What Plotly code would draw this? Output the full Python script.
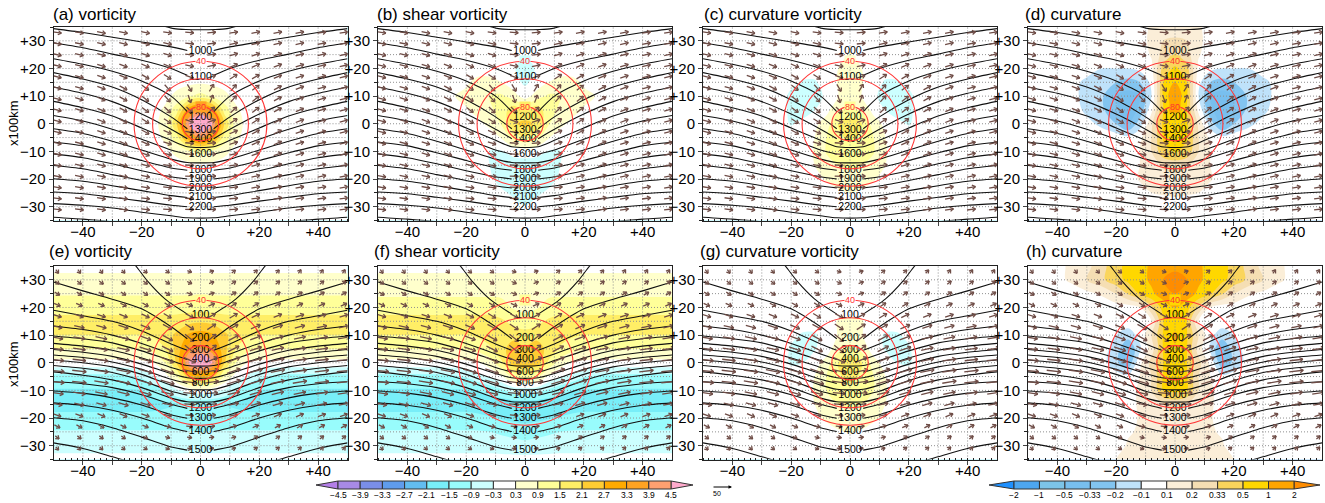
import numpy as np
import plotly.graph_objects as go

W, H = 1325, 503
FONT = "Liberation Sans"
TITLES = ["(a) vorticity", "(b) shear vorticity", "(c) curvature vorticity", "(d) curvature",
          "(e) vorticity", "(f) shear vorticity", "(g) curvature vorticity", "(h) curvature"]
TITLE_X = [51, 375, 702, 1023, 47, 372, 698, 1024]
PANEL_LEFT = [53.5, 378, 703, 1028]
PANEL_W = 294
ROW_TOP = [27, 266]
ROW_H = 193.5

XH = [0, 4, 8, 12, 16, 20, 25, 30, 35, 40, 50]
YG = [35, 30, 25, 20, 15, 10, 5, 0, -5, -10, -15, -20, -25, -30, -35]

Z_A = [[0], [0], [0], [0.05, 0], [0.2, 0.15, 0.1, 0], [1.1, 0.8, 0.45, 0.15, 0.05, 0], [3.9, 3.1, 1.3, 0.4, 0.1, 0],
       [5.6, 4.5, 2.1, 0.6, 0.1, 0], [3.9, 3.1, 1.3, 0.4, 0.1, 0], [1.1, 0.8, 0.45, 0.15, 0.05, 0],
       [0.2, 0.15, 0.1, 0], [0.05, 0], [0], [0], [0]]
Z_B = [[0], [0], [-0.25, -0.05, 0], [-0.5, -0.25, 0], [-0.4, -0.1, 0.3, 0.5, 0.5, 0.2, 0],
       [0, 0.6, 1.0, 0.9, 0.6, 0.45, 0.25, 0.05, 0], [1.5, 1.9, 1.1, 0.8, 0.5, 0.25, 0], [2.3, 2.0, 0.95, 0.45, 0.15, 0],
       [1.4, 1.1, 0.35, 0, -0.1, 0], [0, -0.1, -0.35, -0.32, -0.05, 0], [-0.6, -0.6, -0.55, -0.3, 0],
       [-0.7, -0.65, -0.5, -0.2, 0], [-0.5, -0.4, -0.2, 0], [-0.28, -0.1, 0], [0]]
Z_C = [[0], [0.1, 0], [0.35, 0.1, 0], [0.45, 0.3, 0, -0.1, -0.05, 0],
       [0.6, 0.35, -0.1, -0.35, -0.35, -0.2, 0], [0.6, 0.3, -0.2, -0.5, -0.55, -0.4, -0.05, 0],
       [1.1, 0.8, 0.1, -0.3, -0.55, -0.4, -0.05, 0], [1.8, 1.5, 0.6, 0.15, -0.15, -0.35, 0],
       [1.6, 1.4, 0.9, 0.3, 0.05, 0], [1.3, 1.2, 0.95, 0.35, 0], [1.0, 0.9, 0.7, 0.3, 0],
       [0.65, 0.55, 0.35, 0.1, 0], [0.3, 0.2, 0.05, 0], [0], [0]]
Z_D = [[0.15, 0.14, 0.12, 0], [0.22, 0.2, 0.13, 0], [0.35, 0.25, 0.11, 0, -0.02, 0],
       [0.6, 0.4, 0.05, -0.05, -0.1, -0.1, -0.1, -0.03, 0], [1.1, 0.5, -0.05, -0.2, -0.25, -0.2, -0.17, -0.12, -0.05, 0],
       [2.2, 0.6, -0.1, -0.35, -0.4, -0.35, -0.18, -0.13, -0.05, 0], [1.0, 0.5, 0.05, -0.3, -0.45, -0.3, -0.18, -0.12, -0.02, 0],
       [0.7, 0.6, 0.18, -0.15, -0.35, -0.2, -0.12, -0.05, 0], [0.7, 0.55, 0.2, 0.05, -0.05, 0],
       [0.55, 0.45, 0.2, 0.1, 0], [0.25, 0.22, 0.15, 0.1, 0], [0.17, 0.16, 0.13, 0.11, 0.02, 0],
       [0.12, 0.11, 0.1, 0.02, 0], [0], [0]]
Z_E = [[0.05], [0.55], [0.85], [1.3, 1.25, 1.2], [2.0, 1.9, 1.8, 1.75], [3.0, 2.8, 2.2, 1.9, 1.6, 1.5],
       [4.0, 3.6, 2.3, 1.5, 1.1, 0.95, 0.9], [5.4, 4.6, 2.2, 0.9, 0.3, 0.15, 0.1],
       [2.8, 2.4, 0.9, 0.05, -0.4, -0.8, -1.0, -1.1], [0.05, -0.1, -0.4, -0.9, -1.3, -1.5, -1.55],
       [-1.35, -1.4, -1.5, -1.6, -1.7, -1.75], [-1.4, -1.35, -1.3], [-0.9, -0.85], [-0.55], [-0.1]]
Z_F = [[0.05], [0.55], [0.6, 0.7, 0.8], [0.7, 0.85, 1.1, 1.2], [1.2, 1.3, 1.6, 1.75], [1.7, 1.9, 2.0, 1.8, 1.6, 1.5],
       [2.2, 2.4, 1.9, 1.4, 1.1, 0.95, 0.9], [2.6, 2.4, 1.4, 0.6, 0.25, 0.15, 0.1],
       [1.3, 1.1, 0.2, -0.2, -0.5, -0.85, -1.0, -1.1], [-0.6, -0.7, -1.0, -1.3, -1.5, -1.55],
       [-1.8, -1.85, -1.9, -1.85, -1.8, -1.75], [-1.7, -1.65, -1.55, -1.45, -1.35, -1.3],
       [-1.2, -1.1, -1.0, -0.9, -0.85], [-0.7, -0.65, -0.6, -0.55], [-0.1]]
Z_G = [[0], [0], [0], [0.1, 0], [0.4, 0.35, 0, -0.1, -0.1, 0], [0.55, 0.35, -0.1, -0.35, -0.35, -0.2, 0],
       [1.1, 0.7, 0, -0.35, -0.45, -0.35, 0], [1.9, 1.5, 0.55, 0.05, -0.3, -0.35, -0.05, 0],
       [1.7, 1.4, 0.9, 0.3, -0.05, -0.1, 0], [1.3, 1.2, 0.9, 0.35, 0], [1.0, 0.9, 0.7, 0.3, 0],
       [0.6, 0.55, 0.4, 0.15, 0], [0.35, 0.25, 0.08, 0], [0], [0]]
Z_H = [[1.9, 1.7, 1.2, 0.8, 0.65, 0.45, 0.28, 0.17, 0.12, 0.05, 0], [2.3, 2.0, 1.2, 0.8, 0.6, 0.45, 0.3, 0.2, 0.12, 0.05, 0],
       [2.0, 1.5, 0.9, 0.55, 0.35, 0.2, 0.11, 0.05, 0], [1.0, 0.7, 0.3, 0.1, 0], [0.55, 0.5, 0.1, 0],
       [1.3, 0.55, 0.2, -0.05, -0.15, -0.1, 0], [0.9, 0.55, 0.15, -0.12, -0.35, -0.15, 0],
       [0.7, 0.5, 0.25, 0.05, -0.3, -0.18, 0], [0.75, 0.55, 0.2, 0.1, -0.05, 0], [0.6, 0.5, 0.2, 0.12, 0],
       [0.25, 0.2, 0.13, 0.12, 0], [0.17, 0.16, 0.13, 0.11, 0.02, 0], [0.13, 0.13, 0.12, 0.11, 0.08, 0],
       [0.13, 0.12, 0.12, 0.11, 0.11, 0.02, 0], [0.13, 0.12, 0.12, 0.12, 0.11, 0.1, 0]]
FIELDS = [Z_A, Z_B, Z_C, Z_D, Z_E, Z_F, Z_G, Z_H]

VOR_LEVELS = [-4.5, -3.9, -3.3, -2.7, -2.1, -1.5, -0.9, -0.3, 0.3, 0.9, 1.5, 2.1, 2.7, 3.3, 3.9, 4.5]
VOR_COLORS = ["#b47fe8", "#a88ae6", "#7a8ee8", "#5f9cec", "#62bdf0", "#78eef8", "#98fcfc", "#ccffff", "#ffffff",
              "#ffffcc", "#ffff99", "#ffee66", "#ffcc33", "#ffaa00", "#ffa322", "#ffa070", "#ffaacc"]
VOR_LABELS = ["−4.5", "−3.9", "−3.3", "−2.7", "−2.1", "−1.5", "−0.9", "−0.3", "0.3", "0.9", "1.5", "2.1", "2.7", "3.3", "3.9", "4.5"]
CUR_LEVELS = [-2, -1, -0.5, -0.33, -0.2, -0.1, 0.1, 0.2, 0.33, 0.5, 1, 2]
CUR_COLORS = ["#1e90ff", "#4da6f0", "#7cc4e8", "#78bfee", "#82c4f0", "#bfe2fa", "#ffffff", "#fbeed8", "#f5deb3",
              "#fad55c", "#ffd700", "#ffa500", "#ff8c00"]
CUR_LABELS = ["−2", "−1", "−0.5", "−0.33", "−0.2", "−0.1", "0.1", "0.2", "0.33", "0.5", "1", "2"]

ISO_X = [50, 40, 30, 20, 10, 4.5]
ISO_LEVELS_1 = [1000, 1100, 1200, 1300, 1400, 1500, 1600, 1700, 1800, 1900, 2000, 2100, 2200, 2300, 2400]
ISO_Y_1 = [[34.4, 33, 31.3, 29.6, 27.8, 26.5], [29.3, 27.5, 25.2, 23, 20, 17.5], [23.5, 21.5, 19, 15.5, 10, 4.4],
           [18.5, 16.2, 13.3, 8.7, 2.5, -1.8], [13.3, 11, 8, 3.5, -2, -5.4], [8.1, 5.8, 2.8, -1.5, -6, -8.3],
           [3, 1, -2, -5.6, -9.5, -11], [-1.8, -3.5, -6.3, -9.5, -12.8, -14], [-6.6, -8, -10.5, -13.3, -16, -16.8],
           [-10.9, -12.3, -14.5, -17, -19.2, -20], [-15.1, -16.3, -18.4, -20.5, -22.5, -23.2],
           [-19.9, -20.8, -22.4, -24.2, -26, -26.7], [-24.7, -25.3, -26.6, -28, -29.5, -30],
           [-28.9, -29.5, -30.5, -32, -33.3, -34], [-33.8, -34.5, -35.5, -37, -38, -39]]
ISO_LABELS_1 = [1000, 1100, 1200, 1300, 1400, 1600, 1800, 1900, 2000, 2100, 2200]
ISO_LABEL_Y_1 = [26.3, 16.9, 2.4, -2.4, -5.8, -11.2, -16.9, -20.2, -23.3, -26.8, -30.2]
ISO_EXTRA_X_1 = [12, 9, 5, 0]
ISO_EXTRA_Y_1 = [35.2, 34.4, 34.1, 34]

ISO_LEVELS_2 = [200, 300, 400, 500, 600, 700, 800, 900, 1000, 1100, 1200, 1300, 1400, 1500, 1600]
ISO_Y_2 = [[29.2, 26, 23, 19.5, 13, 8.7], [19, 17, 15, 11.5, 6.8, 4.5], [13.3, 12, 10, 7, 3.2, 1.2],
           [9.7, 8.7, 7.2, 4.3, 0.8, -1], [7, 6, 4.5, 1.7, -1.7, -3.4], [4.8, 3.8, 2.3, -0.5, -3.9, -5.4],
           [2.8, 1.9, 0.3, -2.4, -6, -7.5], [1, 0, -1.5, -4.2, -8.1, -9.6], [-1, -2, -3.5, -6.4, -10.3, -11.7],
           [-3.3, -4.5, -6.2, -9, -12.8, -14.1], [-6.9, -7.6, -9, -11.6, -15, -16.5], [-10.2, -11, -12.7, -15.3, -18.8, -20.1],
           [-14.5, -15.4, -17.2, -20, -23.5, -24.9], [-19.9, -21, -23.5, -26.9, -30.5, -31.6],
           [-29, -31, -34, -37, -39, -40]]
ISO_LABELS_2 = [100, 200, 300, 400, 600, 800, 1000, 1200, 1300, 1400, 1500]
ISO_LABEL_Y_2 = [17.2, 8.7, 4.5, 1.2, -3.4, -7.5, -11.7, -16.5, -20.1, -24.9, -31.6]
ISO_EXTRA_X_2 = [24, 22, 18, 12, 4.5]
ISO_EXTRA_Y_2 = [37, 35, 29.5, 23, 17.6]

WIND_X = [48.75, 41.25, 33.75, 26.25, 18.75, 11.25, 3.75]
WIND_Y = [33, 29, 25, 21, 17, 13, 9, 5, 1, -3, -7, -11, -15, -19, -23, -27, -31]
WIND_ANG_1 = [[-10, -10, -12, -12, -12, -10, -5], [-12, -12, -14, -15, -15, -14, -6], [-13, -14, -16, -18, -20, -18, -8],
              [-14, -15, -18, -22, -25, -25, -12], [-15, -17, -20, -25, -32, -35, -20], [-15, -17, -22, -30, -38, -50, -60],
              [-16, -18, -24, -30, -40, -50, -70], [-16, -18, -24, -30, -38, -45, -45], [-15, -18, -22, -28, -35, -35, -20],
              [-15, -17, -20, -27, -30, -25, -10], [-14, -16, -18, -24, -26, -18, -5], [-13, -15, -17, -20, -20, -13, -3],
              [-12, -14, -16, -18, -16, -10, -3], [-11, -12, -14, -15, -13, -8, -2], [-10, -11, -12, -12, -10, -7, -2],
              [-8, -9, -10, -10, -8, -5, -2], [-7, -8, -9, -9, -7, -4, -1]]
WIND_LEN_1 = [2.9, 2.9, 2.9, 2.9, 2.9, 2.9, 2.9, 2.9, 2.9, 2.9, 2.9, 2.9, 2.9, 2.9, 2.9, 2.9, 2.9]
WIND_ANG_2 = [[-55, -55, -55, -50, -45, -40, -25], [-40, -40, -40, -40, -40, -35, -25], [-32, -32, -32, -34, -36, -32, -20],
              [-25, -25, -26, -28, -32, -35, -25], [-18, -18, -20, -24, -28, -32, -30], [-14, -14, -16, -20, -24, -30, -35],
              [-10, -11, -13, -16, -22, -30, -40], [-8, -9, -11, -14, -20, -28, -40], [-6, -7, -9, -12, -18, -24, -25],
              [-6, -7, -9, -12, -17, -20, -12], [-6, -7, -10, -13, -17, -17, -8], [-9, -10, -12, -15, -17, -14, -5],
              [-12, -14, -16, -18, -18, -12, -5], [-20, -22, -24, -24, -20, -12, -5], [-30, -30, -32, -30, -25, -15, -5],
              [-40, -40, -40, -35, -30, -20, -8], [-50, -50, -45, -40, -35, -25, -10]]
WIND_LEN_2 = [1.6, 1.8, 2.0, 2.3, 3.0, 3.5, 4.0, 4.2, 4.5, 4.8, 4.8, 4.2, 3.5, 2.8, 2.2, 1.7, 1.5]

RADII = [6.2, 16.3, 22.6]
LABEL_40_BG = ["#ffffff", "#ccffff", "#ffffcc", "#fad55c", "#ffff99", "#ffff99", "#ffffff", "#ffd700"]
LABEL_80_BG = ["#ffa322", "#ffee66", "#ffff99", "#ffa500"]
XTICKS = [-40, -30, -20, -10, 0, 10, 20, 30, 40]
XTICK_TEXT = ["−40", "", "−20", "", "0", "", "+20", "", "+40"]
YTICKS = [-30, -20, -10, 0, 10, 20, 30]
YTICK_TEXT = ["−30", "−20", "−10", "0", "+10", "+20", "+30"]
GRID_Y = [-30, -25, -20, -15, -10, -5, 0, 5, 10, 15, 20, 25, 30]

ARROW = "#6e4c46"
GRID = "#8f8f8f"

def full_field(rows):
    out = []
    for r in rows:
        r = list(r) + [r[-1]] * (len(XH) - len(r))
        r = r[-1:] + r[:0:-1] + r + r[-1:]
        out.append(r)
    out = out[:1] + out + out[-1:]
    return np.array(out[::-1], dtype=float)

def colorscale(colors):
    n = len(colors) - 1
    return [[i / n, c] for i, c in enumerate(colors)]

fig = go.Figure()
# the field's outer edge lies outside the axis range so its border is never seen
xfull = [-56] + [-v for v in XH[:0:-1]] + XH + [56]
yfull = [-41] + YG[::-1] + [41]
shapes, annos = [], []

def px(x): return x / W
def py(y): return 1 - y / H

for i in range(8):
    row, col = i // 4, i % 4
    ax = i + 1
    xa, ya = f"x{ax}", f"y{ax}"
    left, top = PANEL_LEFT[col], ROW_TOP[row]
    fig.layout[f"xaxis{ax}"] = dict(
        domain=[px(left), px(left + PANEL_W)], range=[-50, 50], anchor=ya,
        tickmode="array", tickvals=XTICKS, ticktext=XTICK_TEXT, ticks="outside", ticklen=4, tickwidth=1, ticklabelstandoff=-7,
        showgrid=False, zeroline=False, showline=True, mirror=True, linecolor="#222", linewidth=1,
        tickfont=dict(family=FONT, size=15, color="#000"), minor=dict(dtick=2, ticks="inside", ticklen=2, tickcolor="#222", showgrid=False))
    fig.layout[f"yaxis{ax}"] = dict(
        domain=[py(top + ROW_H), py(top)], range=[-35, 35], anchor=xa,
        tickmode="array", tickvals=YTICKS, ticktext=YTICK_TEXT, ticks="outside", ticklen=4, tickwidth=1,
        showgrid=False, zeroline=False, showline=True, mirror=True, linecolor="#222", linewidth=1,
        tickfont=dict(family=FONT, size=15, color="#000"), minor=dict(dtick=5, ticks="outside", ticklen=3, tickcolor="#222", showgrid=False))

    z = full_field(FIELDS[i])
    if col < 3:
        levels, colors = VOR_LEVELS, VOR_COLORS
        zz = z
        start, size = levels[0], 0.6
        end = levels[-1]
    else:
        levels, colors = CUR_LEVELS, CUR_COLORS
        zz = np.interp(z, [-4] + levels + [4], [-1] + list(range(len(levels))) + [len(levels)])
        start, size, end = 0, 1, len(levels) - 1
    fig.add_trace(go.Contour(x=xfull, y=yfull, z=zz, xaxis=xa, yaxis=ya, showscale=False, hoverinfo="skip",
                             colorscale=colorscale(colors), autocontour=False,
                             contours=dict(coloring="fill", start=start, end=end, size=size, showlines=False),
                             line=dict(width=0, smoothing=1.0)))
    # dotted grid above the shading
    gx, gy = [], []
    for v in XTICKS:
        gx += [v, v, None]; gy += [-35, 35, None]
    for v in GRID_Y:
        gx += [-50, 50, None]; gy += [v, v, None]
    fig.add_trace(go.Scatter(x=gx, y=gy, xaxis=xa, yaxis=ya, mode="lines", hoverinfo="skip",
                             line=dict(color=GRID, width=1, dash="1px,2px")))
    # isobars
    iso_y = ISO_Y_1 if row == 0 else ISO_Y_2
    iso_lv = ISO_LEVELS_1 if row == 0 else ISO_LEVELS_2
    labels = ISO_LABELS_1 if row == 0 else ISO_LABELS_2
    label_y = ISO_LABEL_Y_1 if row == 0 else ISO_LABEL_Y_2
    lx, ly = [], []
    for lv, ys in zip(iso_lv, iso_y):
        lx += [-v for v in ISO_X] + ([None] if lv in labels else []) + ISO_X[::-1] + [None]
        ly += ys + ([None] if lv in labels else []) + ys[::-1] + [None]
    ex = ISO_EXTRA_X_1 if row == 0 else ISO_EXTRA_X_2
    ey = ISO_EXTRA_Y_1 if row == 0 else ISO_EXTRA_Y_2
    if row == 0:
        lx += [-v for v in ex] + ex[-2::-1] + [None]
        ly += ey + ey[-2::-1] + [None]
    else:
        lx += [-v for v in ex] + [None] + ex[::-1] + [None]
        ly += ey + [None] + ey[::-1] + [None]
    fig.add_trace(go.Scatter(x=lx, y=ly, xaxis=xa, yaxis=ya, mode="lines", hoverinfo="skip",
                             line=dict(color="#111", width=1.1, shape="spline", smoothing=0.7)))
    # wind vectors: shaft and two barbs, in axis units
    ang, ln = (WIND_ANG_1, WIND_LEN_1) if row == 0 else (WIND_ANG_2, WIND_LEN_2)
    sx, sy = [], []
    for j, wy in enumerate(WIND_Y):
        for k, wx in enumerate(WIND_X):
            for sign in (-1, 1):
                a = np.deg2rad(ang[j][k]) if sign == -1 else -np.deg2rad(ang[j][k])
                dx, dy = ln[j] * np.cos(a) / 2, ln[j] * np.sin(a) / 2
                x0 = sign * wx
                tx, ty = x0 + dx, wy + dy
                sx += [x0 - dx, tx, None]; sy += [wy - dy, ty, None]
                for b in (a + np.pi - 0.6, a + np.pi + 0.6):
                    sx += [tx, tx + 1.35 * np.cos(b), None]; sy += [ty, ty + 1.35 * np.sin(b), None]
    fig.add_trace(go.Scatter(x=sx, y=sy, xaxis=xa, yaxis=ya, mode="lines", hoverinfo="skip",
                             line=dict(color=ARROW, width=1.3)))
    fig.add_trace(go.Scatter(x=[0] * len(labels), y=label_y, text=[str(v) for v in labels], xaxis=xa, yaxis=ya,
                             mode="text", hoverinfo="skip", textfont=dict(family=FONT, size=10.5, color="#000")))
    for r in RADII:
        shapes.append(dict(type="circle", xref=xa, yref=ya, x0=-r, x1=r, y0=-r, y1=r, line=dict(color="#ff3838", width=1.1), layer="above"))
    annos.append(dict(x=0, y=RADII[2], xref=xa, yref=ya, text="40", showarrow=False, font=dict(family=FONT, size=9, color="#ff3030"),
                      bgcolor=LABEL_40_BG[i], borderpad=0))
    if row == 0:
        annos.append(dict(x=0, y=RADII[0], xref=xa, yref=ya, text="80", showarrow=False, font=dict(family=FONT, size=9, color="#ff3030"),
                          bgcolor=LABEL_80_BG[i], borderpad=0))
    annos.append(dict(x=px(TITLE_X[i]), y=py(14 if row == 0 else 252), xref="paper", yref="paper", xanchor="left", yanchor="middle",
                      text=TITLES[i], showarrow=False, font=dict(family=FONT, size=17, color="#000")))

for yc in (123, 364):
    annos.append(dict(x=px(13), y=py(yc), xref="paper", yref="paper", xanchor="center", yanchor="middle", text="x100km", textangle=-90, showarrow=False,
                      font=dict(family=FONT, size=13, color="#000")))

def color_bar(x0, x1, tip0, tip1, colors, labels):
    y0, y1, n = 481, 489, len(labels) - 1
    ym = (y0 + y1) / 2
    def path(a, b):
        return f"M{px(a)},{py(y0)}L{px(a)},{py(y1)}L{px(b)},{py(ym)}Z"
    line = dict(color="#333", width=1)
    shapes.append(dict(type="path", xref="paper", yref="paper", path=path(x0, tip0), fillcolor=colors[0], line=line))
    shapes.append(dict(type="path", xref="paper", yref="paper", path=path(x1, tip1), fillcolor=colors[-1], line=line))
    for k in range(n):
        a, b = x0 + (x1 - x0) * k / n, x0 + (x1 - x0) * (k + 1) / n
        shapes.append(dict(type="rect", xref="paper", yref="paper", x0=px(a), x1=px(b), y0=py(y1), y1=py(y0),
                           fillcolor=colors[k + 1], line=line))
    for k, t in enumerate(labels):
        annos.append(dict(x=px(x0 + (x1 - x0) * k / n), y=py(495), xref="paper", yref="paper", xanchor="center", yanchor="middle",
                          text=t, showarrow=False, font=dict(family=FONT, size=8.5, color="#000")))

color_bar(338, 671, 316, 693, VOR_COLORS, VOR_LABELS)
color_bar(1014, 1294, 989, 1320, CUR_COLORS, CUR_LABELS)

annos.append(dict(x=px(732), y=py(487), ax=-20, ay=0, xref="paper", yref="paper", text="",
                  showarrow=True, arrowhead=2, arrowsize=0.7, arrowwidth=1, arrowcolor="#000"))
annos.append(dict(x=px(717), y=py(493), xref="paper", yref="paper", xanchor="center", yanchor="middle", text="50", showarrow=False, font=dict(family=FONT, size=7, color="#000")))

fig.update_layout(width=W, height=H, margin=dict(l=0, r=0, t=0, b=0), showlegend=False,
                  paper_bgcolor="white", plot_bgcolor="white", shapes=shapes, annotations=annos,
                  font=dict(family=FONT))
fig.write_html("out.html", config={"displayModeBar": False},
               post_script="document.body.style.margin='0';document.documentElement.style.overflow='hidden';")
